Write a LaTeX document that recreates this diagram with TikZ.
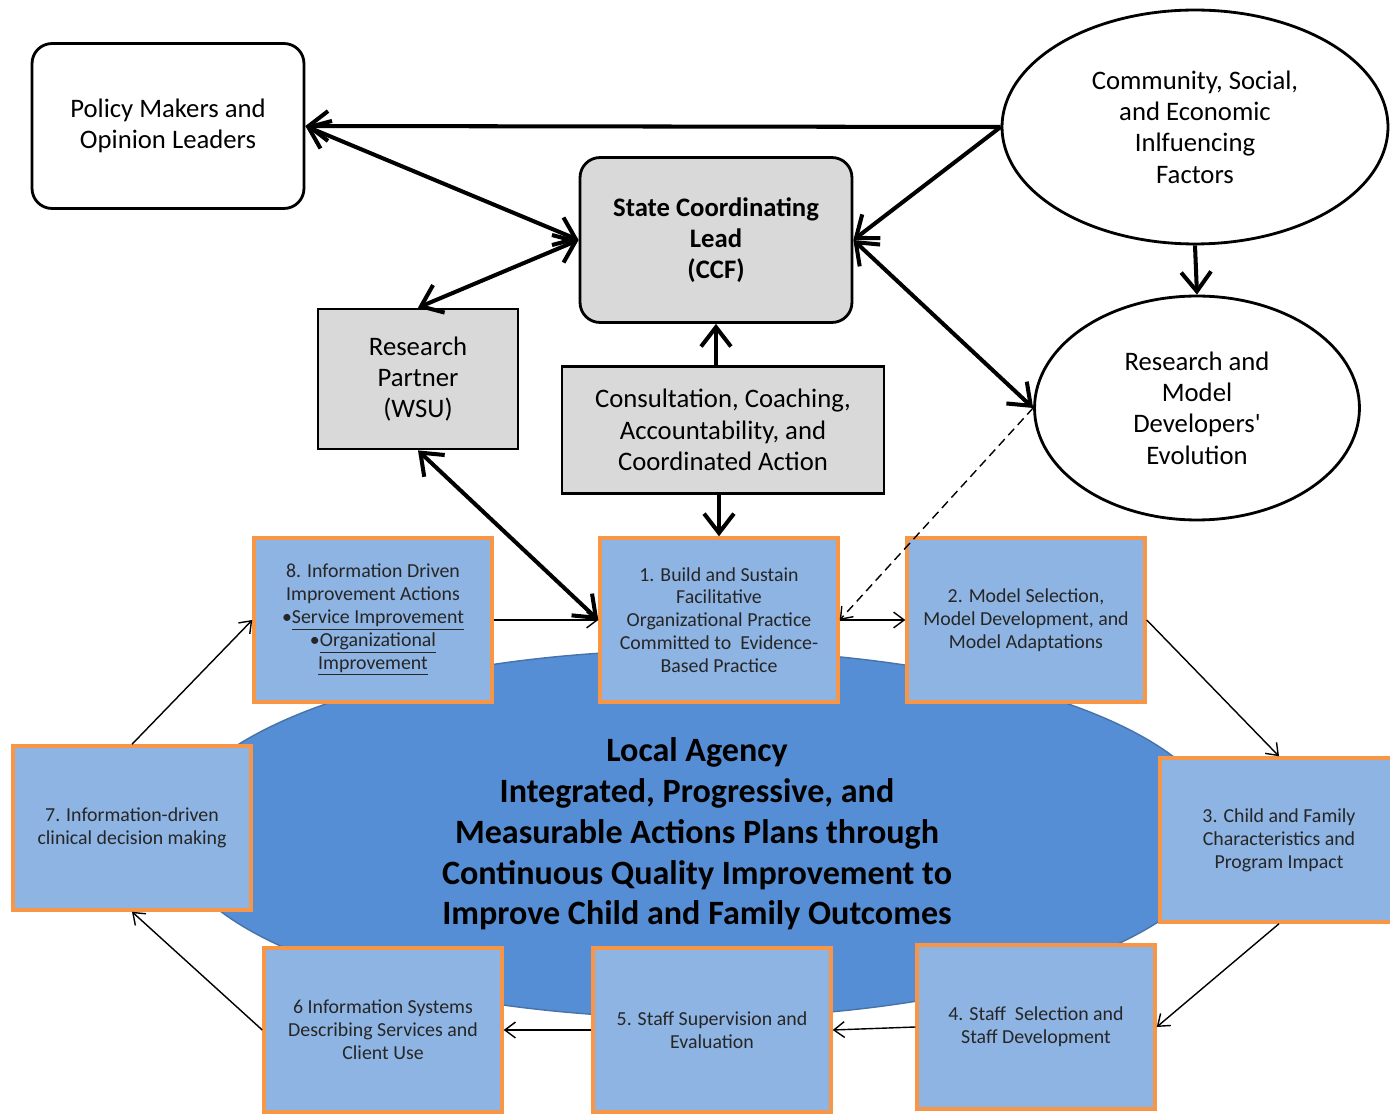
\documentclass[tikz,border=0pt]{standalone}
\usepackage{fontspec}
\setmainfont{Carlito}
\usetikzlibrary{arrows.meta,shapes.geometric}

\definecolor{stepblue}{RGB}{142,180,227}
\definecolor{ovalblue}{RGB}{85,142,213}
\definecolor{ovaledge}{RGB}{70,115,170}
\definecolor{stepedge}{RGB}{247,150,70}
\definecolor{leadgray}{RGB}{217,217,217}

\begin{document}
\begin{tikzpicture}[x=0.02cm, y=-0.02cm, >={Straight Barb[length=11pt,width=17pt]},
    topbox/.style={draw, line width=1.6pt, align=center, inner sep=0pt,
        minimum width=5.44cm, minimum height=3.3cm, rounded corners=0.4cm,
        font=\fontsize{15.2}{17.8}\selectfont},
    graybox/.style={draw, fill=leadgray, line width=1.6pt, align=center, inner sep=0pt,
        font=\fontsize{15.2}{17.8}\selectfont},
    oval/.style={draw, ellipse, line width=1.6pt, align=center, inner sep=0pt,
        font=\fontsize{15.2}{17.8}\selectfont},
    stepbox/.style={draw=stepedge, fill=stepblue, line width=2pt, align=center, inner sep=0pt,
        minimum width=4.76cm, minimum height=3.28cm, text=black!85,
        font=\fontsize{11.3}{13}\selectfont},
    bigarrow/.style={line width=2.3pt},
    smallarrow/.style={line width=0.8pt, >={Straight Barb[length=6pt,width=9pt]}}]
    \useasboundingbox (0,0) rectangle (1390,1114);

    % central oval
    \node[ellipse, fill=ovalblue, draw=ovaledge, line width=0.8pt, minimum width=21cm,
        minimum height=7.36cm, inner sep=0pt, align=center,
        font=\bfseries\fontsize{19.4}{23.2}\selectfont] (agency) at (697,834)
        {Local Agency\\Integrated, Progressive, and\\Measurable Actions Plans through\\Continuous Quality Improvement to\\Improve Child and Family Outcomes};

    % upper level
    \node[topbox] (policy) at (168,126) {Policy Makers and\\Opinion Leaders};
    \node[topbox, fill=leadgray, font=\bfseries\fontsize{15.2}{17.8}\selectfont] (lead) at (716,240) {State Coordinating\\Lead\\(CCF)};
    \node[oval, minimum width=7.72cm, minimum height=4.68cm] (community) at (1195,127) {Community, Social,\\and Economic\\Inlfuencing\\Factors};
    \node[oval, minimum width=6.5cm, minimum height=4.48cm] (developers) at (1197,408) {Research and\\Model\\Developers\textquotesingle\\Evolution};
    \node[graybox, minimum width=4cm, minimum height=2.8cm] (partner) at (418,379) {Research\\Partner\\(WSU)};
    \node[graybox, minimum width=6.44cm, minimum height=2.54cm] (consult) at (723,430) {Consultation, Coaching,\\Accountability, and\\Coordinated Action};

    % improvement cycle
    \node[stepbox] (s1) at (719,620) {1. Build and Sustain\\Facilitative\\Organizational Practice\\Committed to\ \ Evidence-\\Based Practice};
    \node[stepbox] (s2) at (1026,620) {2. Model Selection,\\Model Development, and\\Model Adaptations};
    \node[stepbox] (s3) at (1279,840) {3. Child and Family\\Characteristics and\\Program Impact};
    \node[stepbox] (s4) at (1036,1027) {4. Staff\ \ Selection and\\Staff Development};
    \node[stepbox] (s5) at (712,1030) {5. Staff Supervision and\\Evaluation};
    \node[stepbox] (s6) at (383,1030) {6 Information Systems\\Describing Services and\\Client Use};
    \node[stepbox] (s7) at (132,828) {7. Information-driven\\clinical decision making};
    \node[stepbox] (s8) at (373,620) {8. Information Driven\\Improvement Actions\\•\underline{Service Improvement}\\•\underline{Organizational}\\\underline{Improvement}};

    \draw[bigarrow, ->] (community.west) -- (policy.east);
    \draw[bigarrow, ->] (community.west) -- (lead.east);
    \draw[bigarrow, <->] (policy.east) -- (lead.west);
    \draw[bigarrow, <->] (lead.west) -- (partner.north);
    \draw[bigarrow, <->] (lead.east) -- (developers.west);
    \draw[bigarrow, ->] (community.south) -- (developers.north);
    \draw[bigarrow, ->] (consult.north -| lead.south) -- (lead.south);
    \draw[bigarrow, ->] (consult.south -| s1.north) -- (s1.north);
    \draw[bigarrow, <->] (partner.south) -- (s1.west);
    \draw[smallarrow, ->, dashed, dash pattern=on 5pt off 3pt] (developers.west) -- (s1.east);

    \draw[smallarrow, ->] (s8.east) -- (s1.west);
    \draw[smallarrow, ->] (s1.east) -- (s2.west);
    \draw[smallarrow, ->] (s2.east) -- (s3.north);
    \draw[smallarrow, ->] (s3.south) -- (s4.east);
    \draw[smallarrow, ->] (s4.west) -- (s5.east);
    \draw[smallarrow, ->] (s5.west) -- (s6.east);
    \draw[smallarrow, ->] (s6.west) -- (s7.south);
    \draw[smallarrow, ->] (s7.north) -- (s8.west);
\end{tikzpicture}
\end{document}
